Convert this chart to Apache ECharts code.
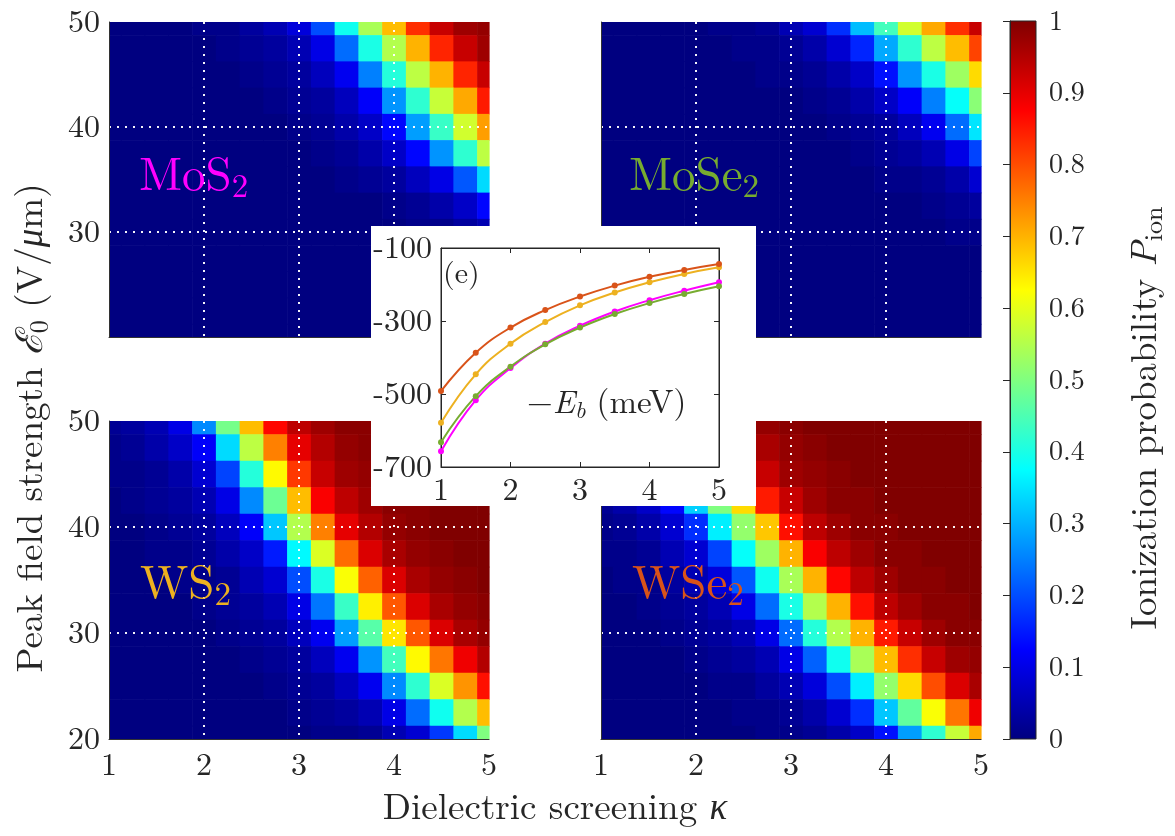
<!DOCTYPE html>
<html><head><meta charset="utf-8">
<script src="https://cdn.jsdelivr.net/npm/echarts@6/dist/echarts.min.js"></script>
<style>html,body{margin:0;padding:0;background:#fff}#c{width:1175px;height:836px}</style>
</head><body><div id="c"></div>
<script>
// ---------- data ----------
const kappa = [1,1.25,1.5,1.75,2,2.25,2.5,2.75,3,3.25,3.5,3.75,4,4.25,4.5,4.75,5];
const field = [50,47.5,45,42.5,40,37.5,35,32.5,30,27.5,25,22.5,20];
// ionization probability, rows follow `field`, columns follow `kappa`
const MoS2 = [
 [0,0,0,0,0.01,0.01,0.03,0.05,0.09,0.2,0.39,0.54,0.69,0.83,0.93,0.97,0.98],
 [0,0,0,0,0,0.01,0.02,0.03,0.05,0.1,0.23,0.4,0.55,0.7,0.84,0.93,0.97],
 [0,0,0,0,0,0,0.01,0.02,0.03,0.06,0.11,0.25,0.41,0.56,0.7,0.84,0.93],
 [0,0,0,0,0,0,0,0.01,0.02,0.03,0.06,0.12,0.27,0.42,0.57,0.71,0.85],
 [0,0,0,0,0,0,0,0,0.01,0.02,0.04,0.07,0.13,0.28,0.43,0.58,0.72],
 [0,0,0,0,0,0,0,0,0,0.01,0.02,0.04,0.07,0.13,0.27,0.42,0.56],
 [0,0,0,0,0,0,0,0,0,0,0.01,0.02,0.03,0.06,0.1,0.21,0.34],
 [0,0,0,0,0,0,0,0,0,0,0,0,0.01,0.02,0.04,0.07,0.13],
 [0,0,0,0,0,0,0,0,0,0,0,0,0,0.01,0.01,0.03,0.05],
 [0,0,0,0,0,0,0,0,0,0,0,0,0,0,0,0.01,0.02],
 [0,0,0,0,0,0,0,0,0,0,0,0,0,0,0,0,0.01],
 [0,0,0,0,0,0,0,0,0,0,0,0,0,0,0,0,0],
 [0,0,0,0,0,0,0,0,0,0,0,0,0,0,0,0,0]
];
const MoSe2 = [
 [0,0,0,0,0,0.01,0.01,0.02,0.05,0.08,0.17,0.31,0.44,0.58,0.71,0.83,0.93],
 [0,0,0,0,0,0,0.01,0.01,0.02,0.04,0.08,0.16,0.29,0.42,0.56,0.69,0.81],
 [0,0,0,0,0,0,0,0.01,0.01,0.02,0.04,0.07,0.14,0.27,0.4,0.53,0.66],
 [0,0,0,0,0,0,0,0,0,0.01,0.02,0.04,0.07,0.12,0.25,0.38,0.51],
 [0,0,0,0,0,0,0,0,0,0,0.01,0.02,0.03,0.06,0.11,0.23,0.35],
 [0,0,0,0,0,0,0,0,0,0,0,0.01,0.02,0.03,0.05,0.1,0.19],
 [0,0,0,0,0,0,0,0,0,0,0,0,0.01,0.01,0.02,0.04,0.08],
 [0,0,0,0,0,0,0,0,0,0,0,0,0,0,0.01,0.02,0.03],
 [0,0,0,0,0,0,0,0,0,0,0,0,0,0,0,0.01,0.01],
 [0,0,0,0,0,0,0,0,0,0,0,0,0,0,0,0,0],
 [0,0,0,0,0,0,0,0,0,0,0,0,0,0,0,0,0],
 [0,0,0,0,0,0,0,0,0,0,0,0,0,0,0,0,0],
 [0,0,0,0,0,0,0,0,0,0,0,0,0,0,0,0,0]
];
const WS2 = [
 [0.02,0.03,0.05,0.1,0.26,0.49,0.69,0.87,0.94,0.97,0.99,0.99,1,1,1,1,1],
 [0.01,0.02,0.04,0.07,0.12,0.34,0.56,0.75,0.9,0.95,0.98,0.99,1,1,1,1,1],
 [0.01,0.01,0.02,0.04,0.08,0.19,0.41,0.63,0.82,0.93,0.97,0.98,0.99,1,1,1,1],
 [0,0.01,0.02,0.03,0.05,0.1,0.26,0.48,0.69,0.88,0.94,0.97,0.99,0.99,1,1,1],
 [0,0,0.01,0.02,0.03,0.06,0.12,0.32,0.55,0.75,0.9,0.95,0.98,0.99,1,1,1],
 [0,0,0.01,0.01,0.02,0.04,0.07,0.15,0.37,0.59,0.77,0.91,0.96,0.98,0.99,1,1],
 [0,0,0,0.01,0.01,0.02,0.05,0.08,0.2,0.4,0.62,0.78,0.91,0.96,0.98,0.99,1],
 [0,0,0,0,0.01,0.02,0.03,0.05,0.1,0.24,0.43,0.64,0.79,0.91,0.96,0.98,0.99],
 [0,0,0,0,0,0.01,0.02,0.03,0.06,0.11,0.28,0.46,0.65,0.79,0.91,0.96,0.98],
 [0,0,0,0,0,0,0.01,0.02,0.03,0.06,0.11,0.27,0.44,0.63,0.76,0.89,0.95],
 [0,0,0,0,0,0,0,0.01,0.02,0.03,0.06,0.11,0.26,0.42,0.59,0.73,0.86],
 [0,0,0,0,0,0,0,0,0.01,0.02,0.03,0.05,0.1,0.23,0.39,0.55,0.69],
 [0,0,0,0,0,0,0,0,0,0.01,0.01,0.02,0.05,0.08,0.18,0.34,0.5]
];
const WSe2 = [
 [0.08,0.2,0.4,0.56,0.75,0.91,0.96,0.98,0.99,1,1,1,1,1,1,1,1],
 [0.05,0.1,0.24,0.43,0.6,0.79,0.92,0.96,0.98,0.99,1,1,1,1,1,1,1],
 [0.03,0.06,0.11,0.29,0.47,0.63,0.82,0.93,0.97,0.98,0.99,1,1,1,1,1,1],
 [0.02,0.04,0.07,0.13,0.33,0.5,0.66,0.85,0.93,0.97,0.99,0.99,1,1,1,1,1],
 [0.01,0.02,0.04,0.08,0.17,0.36,0.52,0.68,0.86,0.94,0.97,0.99,0.99,1,1,1,1],
 [0.01,0.01,0.02,0.05,0.08,0.19,0.38,0.53,0.7,0.88,0.94,0.97,0.99,0.99,1,1,1],
 [0,0.01,0.01,0.03,0.05,0.09,0.21,0.39,0.54,0.7,0.87,0.94,0.97,0.99,0.99,1,1],
 [0,0,0.01,0.02,0.03,0.05,0.1,0.23,0.4,0.55,0.7,0.86,0.94,0.97,0.99,0.99,1],
 [0,0,0,0.01,0.02,0.03,0.05,0.1,0.23,0.41,0.55,0.7,0.85,0.93,0.97,0.99,0.99],
 [0,0,0,0,0.01,0.02,0.03,0.05,0.1,0.22,0.39,0.54,0.69,0.83,0.93,0.97,0.98],
 [0,0,0,0,0,0.01,0.01,0.03,0.05,0.09,0.2,0.36,0.52,0.66,0.8,0.91,0.96],
 [0,0,0,0,0,0,0.01,0.01,0.02,0.04,0.08,0.17,0.32,0.47,0.62,0.76,0.89],
 [0,0,0,0,0,0,0,0.01,0.01,0.02,0.04,0.07,0.14,0.28,0.42,0.57,0.71]
];
// inset: binding energy -E_b (meV)
const kappaInset = [1,1.5,2,2.5,3,3.5,4,4.5,5];
const EbMoS2  = [-657,-517,-429,-362,-313,-274,-243,-217,-194];
const EbMoSe2 = [-632,-506,-425,-364,-318,-281,-251,-226,-205];
const EbWS2   = [-579,-446,-362,-303,-257,-222,-194,-171,-153];
const EbWSe2  = [-492,-387,-318,-270,-233,-203,-179,-160,-144];
const insetYTicks = [-700,-500,-300,-100];
const colorbarRange = [0,1];

// ---------- style ----------
const FONT = "'Latin Modern Roman','Liberation Serif',serif";
const TXT = '#262626';
const jet = ['#000080','#0000ff','#0080ff','#00ffff','#80ff80','#ffff00','#ff8000','#ff0000','#800000'];
const colMoS2='#ff00ff', colMoSe2='#77ac30', colWS2='#edb120', colWSe2='#d95319';

// distance from canvas 'middle' baseline to alphabetic baseline
const mctx = document.createElement('canvas').getContext('2d');
function off(size){ mctx.font = size+'px '+FONT; mctx.textBaseline='middle';
  return mctx.measureText('H').actualBoundingBoxDescent; }

const panels = [
 {name:'MoS2', vals:MoS2, left:109, top:22, height:315, xLab:false, yLab:true},
 {name:'MoSe2', vals:MoSe2, left:601, top:22, height:315, xLab:false, yLab:false},
 {name:'WS2', vals:WS2, left:109, top:421, height:318, xLab:true, yLab:true},
 {name:'WSe2', vals:WSe2, left:601, top:421, height:318, xLab:true, yLab:false}
];
const kMin = kappa[0], kMax = kappa[kappa.length-1];
const eMin = Math.min(...field), eMax = Math.max(...field);
const dk = kappa[1]-kappa[0], dE = Math.abs(field[0]-field[1]);

const grid = [], xAxis = [], yAxis = [], series = [];
const dotted = {show:true, showMinLine:false, showMaxLine:false,
  lineStyle:{color:'rgba(255,255,255,0.95)', width:2, type:[2,6]}};
panels.forEach((p,i)=>{
  grid.push({left:p.left, top:p.top, width:380, height:p.height});
  xAxis.push({type:'value', gridIndex:i, min:kMin, max:kMax, interval:1, z:5,
    axisLine:{show:true, onZero:false, lineStyle:{color:'#333', width:1}},
    axisTick:{show:false},
    axisLabel:{show:p.xLab, fontFamily:FONT, fontSize:32, color:TXT, margin:10},
    splitLine:dotted});
  yAxis.push({type:'value', gridIndex:i, min:eMin, max:eMax, interval:10, z:5,
    axisLine:{show:true, onZero:false, lineStyle:{color:'#333', width:1}},
    axisTick:{show:false},
    axisLabel:{show:p.yLab, showMinLabel: i===0 ? false : true, fontFamily:FONT, fontSize:32, color:TXT, margin:9},
    splitLine:dotted});
  const data = [];
  field.forEach((E,r)=>kappa.forEach((k,c)=>data.push([k,E,p.vals[r][c]])));
  series.push({type:'custom', name:p.name, xAxisIndex:i, yAxisIndex:i, z:2, silent:true,
    encode:{x:0,y:1}, data,
    renderItem(params, api){
      const k = api.value(0), E = api.value(1);
      const a = api.coord([Math.max(k-dk/2,kMin), Math.min(E+dE/2,eMax)]);
      const b = api.coord([Math.min(k+dk/2,kMax), Math.max(E-dE/2,eMin)]);
      return {type:'rect', shape:{x:a[0], y:a[1], width:b[0]-a[0]+0.6, height:b[1]-a[1]+0.6},
        style:{fill:api.visual('color')}};
    }});
});

// inset grid (index 4)
grid.push({left:441, top:248, width:278, height:219, show:true, z:60,
  borderColor:TXT, borderWidth:1, backgroundColor:'transparent'});
const insetAxisCommon = {z:60, axisLine:{show:true, onZero:false, lineStyle:{color:TXT}},
  splitLine:{show:false}};
xAxis.push(Object.assign({type:'value', gridIndex:4, min:1, max:5, interval:1, position:'bottom',
  axisTick:{inside:true, length:5, lineStyle:{color:TXT}},
  axisLabel:{fontFamily:FONT, fontSize:32, color:TXT, margin:7}}, insetAxisCommon));
xAxis.push(Object.assign({type:'value', gridIndex:4, min:1, max:5, interval:1, position:'top',
  axisTick:{inside:true, length:5, lineStyle:{color:TXT}},
  axisLabel:{show:false}}, insetAxisCommon));
yAxis.push(Object.assign({type:'value', gridIndex:4, min:-700, max:-100, position:'left',
  axisTick:{inside:true, length:5, lineStyle:{color:TXT}, customValues:insetYTicks},
  axisLabel:{fontFamily:FONT, fontSize:32, color:TXT, margin:9, customValues:insetYTicks}}, insetAxisCommon));
yAxis.push(Object.assign({type:'value', gridIndex:4, min:-700, max:-100, position:'right',
  axisTick:{inside:true, length:5, lineStyle:{color:TXT}, customValues:insetYTicks},
  axisLabel:{show:false}}, insetAxisCommon));
[[EbMoS2,colMoS2,'MoS2'],[EbMoSe2,colMoSe2,'MoSe2'],[EbWS2,colWS2,'WS2'],[EbWSe2,colWSe2,'WSe2']].forEach(([v,c,n])=>{
  series.push({type:'line', name:'Eb '+n, xAxisIndex:4, yAxisIndex:4, z:61, smooth:0.45,
    data:kappaInset.map((k,i)=>[k,v[i]]), symbol:'circle', symbolSize:6,
    lineStyle:{color:c, width:2}, itemStyle:{color:c}, silent:true, animation:false});
});

// colorbar grid (index 5)
grid.push({left:1010, top:21, width:26, height:718, show:true, z:10,
  borderColor:TXT, borderWidth:1, backgroundColor:'transparent'});
xAxis.push({type:'value', gridIndex:5, min:0, max:1, show:false});
yAxis.push({type:'value', gridIndex:5, min:colorbarRange[0], max:colorbarRange[1], interval:0.1, position:'right', z:10,
  axisLine:{show:true, lineStyle:{color:TXT}},
  axisTick:{inside:true, length:7, lineStyle:{color:TXT}},
  axisLabel:{fontFamily:FONT, fontSize:28, color:TXT, margin:13},
  splitLine:{show:false}});
series.push({type:'custom', name:'colorbar', xAxisIndex:6, yAxisIndex:6, z:2, silent:true,
  data:[[0, colorbarRange[1]]],
  renderItem(params, api){
    const a = api.coord([0,colorbarRange[1]]), b = api.coord([1,colorbarRange[0]]);
    return {type:'rect', shape:{x:a[0], y:a[1], width:b[0]-a[0], height:b[1]-a[1]},
      style:{fill:{type:'linear', x:0, y:1, x2:0, y2:0,
        colorStops:jet.map((c,i)=>({offset:i/(jet.length-1), color:c}))}}};
  }});

// ---------- texts ----------
// text with a lowered subscript; (x, baseline) gives the alphabetic baseline of the main text
function subText(parts, x, baseline, F, Fs, drop, color, align, rotation){
  const o = off(F), os = off(Fs);
  const pad = Math.max(0, 2*(drop + o - os));
  const isVert = !!rotation;
  return {type:'text', z:70, x: x, y: baseline, rotation: rotation||0,
    style:{text:parts, fill:color, fontSize:F, fontFamily:FONT, align:align, verticalAlign:'middle',
      rich:{i:{fontStyle:'italic', fontSize:F, fontFamily:FONT, fill:color},
            s:{fontSize:Fs, fontFamily:FONT, fill:color, padding:[pad,0,0,0]},
            si:{fontStyle:'italic', fontSize:Fs, fontFamily:FONT, fill:color, padding:[pad,0,0,0]}}}};
}
function atBaseline(el, F){ el.y = el.y - off(F); return el; }

const graphics = [
  {type:'rect', z:50, shape:{x:371, y:226, width:385, height:280}, style:{fill:'#ffffff'}},
  atBaseline(subText('MoS{s|2}', 139, 190, 47, 33, 7, colMoS2, 'left'), 47),
  atBaseline(subText('MoSe{s|2}', 629, 190, 47, 33, 7, colMoSe2, 'left'), 47),
  atBaseline(subText('WS{s|2}', 140, 598, 47, 33, 7, colWS2, 'left'), 47),
  atBaseline(subText('WSe{s|2}', 632, 598, 47, 33, 7, colWSe2, 'left'), 47),
  atBaseline({type:'text', z:70, x:443, y:283, style:{text:'(e)', fill:TXT, fontSize:30, fontFamily:FONT,
    align:'left', verticalAlign:'middle'}}, 30),
  atBaseline(subText('\u2212{i|E}{si|b} (meV)', 527, 413, 33, 23, 5, TXT, 'left'), 33),
  subText('Peak field strength {i|\u2130}{s|0} (V/{i|\u03bc}m)', 31, 428, 37, 26, 6, TXT, 'center', Math.PI/2),
  subText('Dielectric screening {i|\u03ba}', 555, 808, 37, 26, 0, TXT, 'center'),
  subText('Ionization probability {i|P}{s|ion}', 1145, 418, 37, 26, 6, TXT, 'center', Math.PI/2)
];

const chart = echarts.init(document.getElementById('c'), null, {renderer:'canvas'});
chart.setOption({
  animation:false,
  backgroundColor:'#ffffff',
  grid, xAxis, yAxis, series,
  visualMap:{type:'continuous', show:false, min:0, max:1, dimension:2, seriesIndex:[0,1,2,3],
    inRange:{color:jet}},
  graphic:{elements:graphics}
});
</script>
</body></html>
